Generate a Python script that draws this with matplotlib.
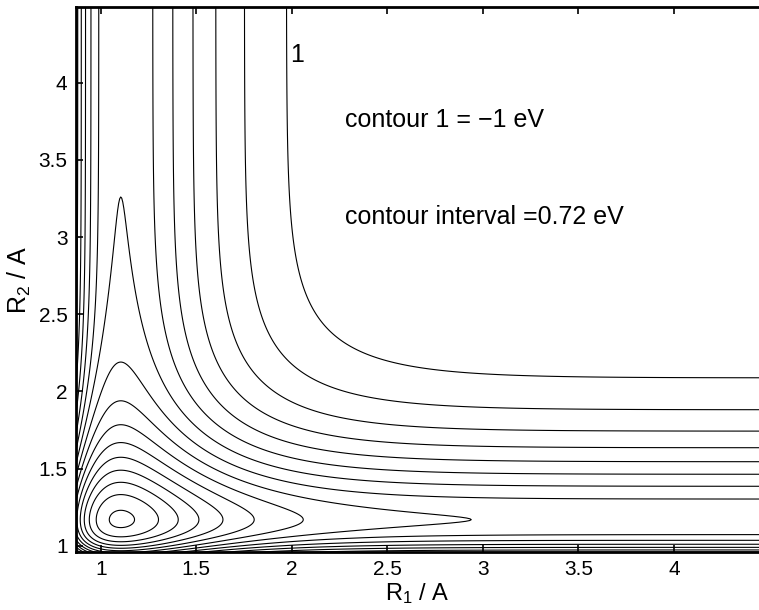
import numpy as np
import matplotlib
matplotlib.use('Agg')
import matplotlib.pyplot as plt

plt.rcParams['font.family'] = ['Liberation Sans', 'DejaVu Sans']
plt.rcParams['mathtext.fontset'] = 'custom'
plt.rcParams['mathtext.rm'] = 'Liberation Sans'
plt.rcParams['mathtext.it'] = 'Liberation Sans'

# Morse parameters of the two channels (eV, 1/A, A)
D1, a1, re1 = 5.28, 2.66, 1.105   # R1 well (vertical channel)
D2, a2, re2 = 6.68, 2.78, 1.170   # R2 well (horizontal channel)

# contour 1 = -1 eV, interval 0.72 eV
levels = [-11.80, -11.08, -10.36, -9.64, -8.92, -8.20, -7.48, -6.76,
          -6.04, -5.32, -4.60, -3.88, -3.16, -2.44, -1.72, -1.00]

xticks = [1, 1.5, 2, 2.5, 3, 3.5, 4]
yticks = [1, 1.5, 2, 2.5, 3, 3.5, 4]


def morse(r, D, a, re):
    return D * (1 - np.exp(-a * (r - re))) ** 2 - D


r1 = np.linspace(0.8, 4.6, 700)
r2 = np.linspace(0.8, 4.6, 700)
R1, R2 = np.meshgrid(r1, r2)
V = morse(R1, D1, a1, re1) + morse(R2, D2, a2, re2)

fig = plt.figure(figsize=(7.59, 6.10), dpi=100)
ax = fig.add_axes([0.100, 0.095, 0.900, 0.8935])

ax.contour(R1, R2, V, levels=levels, colors='black', linewidths=0.8,
           linestyles='solid')

ax.set_xlim(0.87, 4.445)
ax.set_ylim(0.96, 4.49)
ax.set_xticks(xticks)
ax.set_yticks(yticks)
ax.set_xticklabels(['1', '1.5', '2', '2.5', '3', '3.5', '4'])
ax.set_yticklabels(['1', '1.5', '2', '2.5', '3', '3.5', '4'])
ax.tick_params(direction='in', top=True, right=False, length=5, width=1.2,
               labelsize=15, pad=6)
for side in ['left', 'top', 'bottom']:
    ax.spines[side].set_linewidth(2)
ax.spines['right'].set_visible(False)

ax.set_xlabel(r'R$_1$ / A', fontsize=17, labelpad=1)
ax.set_ylabel(r'R$_2$ / A', fontsize=18, labelpad=4)

ax.text(1.99, 4.18, '1', fontsize=18, va='center', ha='left')
ax.text(2.28, 3.76, 'contour 1 = \u22121 eV', fontsize=18, va='center')
ax.text(2.28, 3.13, 'contour interval =0.72 eV', fontsize=18, va='center')

fig.savefig('out.png', dpi=100)
